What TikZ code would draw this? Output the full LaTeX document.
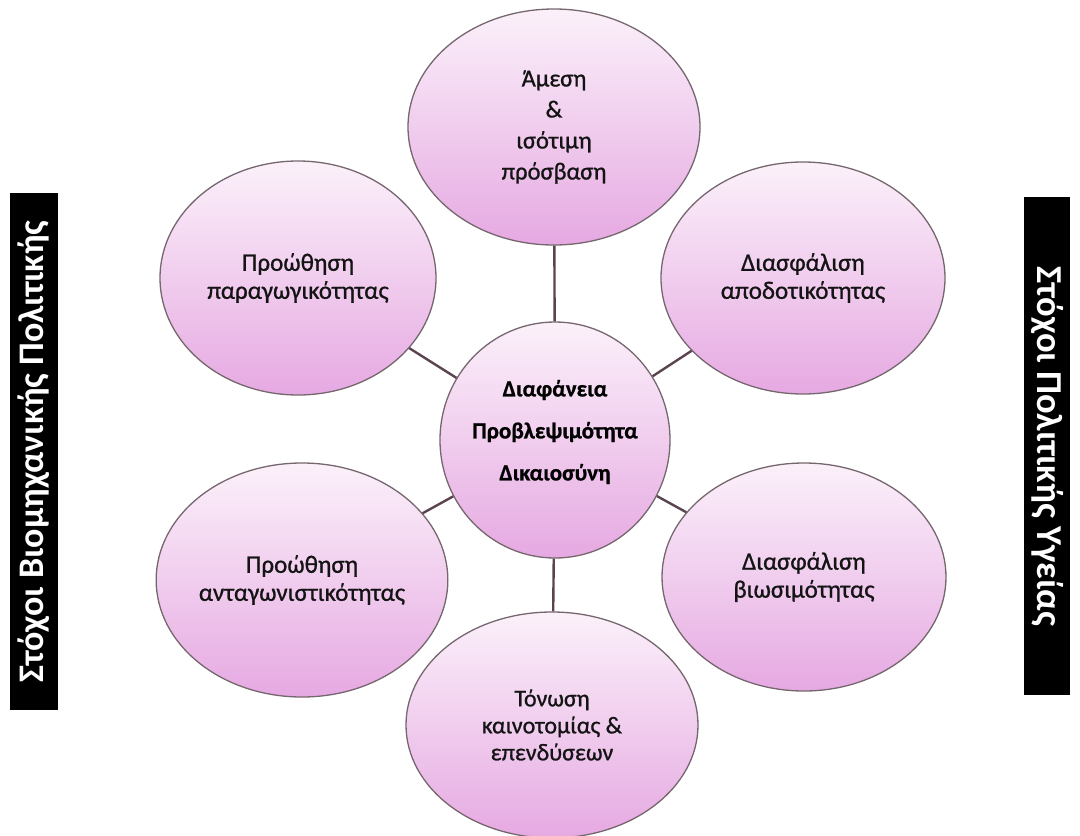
\documentclass[tikz,border=0pt]{standalone}
\usepackage{fontspec}
\setmainfont{Carlito}
\newfontfamily\medfont[FakeBold=0.9]{Carlito}
\usetikzlibrary{shapes.geometric}
\definecolor{pinktop}{HTML}{FBF1FA}
\definecolor{pinkbot}{HTML}{E6A9E2}
\definecolor{rim}{HTML}{76666E}
\definecolor{linkc}{HTML}{5B4350}
\begin{document}
\begin{tikzpicture}[x=1pt,y=-1pt,
  bubble/.style={ellipse, draw=rim, line width=1.3pt, top color=pinktop, bottom color=pinkbot,
    inner sep=0pt, align=center, text=black!92, font=\medfont\fontsize{25}{28}\selectfont},
  link/.style={draw=linkc, line width=2.4pt},
  sidebar/.style={fill=black, inner sep=0pt, text=white}]
\useasboundingbox[fill=white] (0,0) rectangle (1080,836);

\node[bubble, minimum width=292pt, minimum height=236pt, font=\medfont\fontsize{24.5}{31}\selectfont] (top) at (554,127) {Άμεση\\\&\\ισότιμη\\πρόσβαση};
\node[bubble, minimum width=276pt, minimum height=234pt] (ul) at (298,278) {Προώθηση\\παραγωγικότητας};
\node[bubble, minimum width=284pt, minimum height=232pt] (ur) at (803,278) {Διασφάλιση\\αποδοτικότητας};
\node[bubble, minimum width=276pt, minimum height=234pt] (ll) at (302,580) {Προώθηση\\ανταγωνιστικότητας};
\node[bubble, minimum width=284pt, minimum height=228pt] (lr) at (804,577) {Διασφάλιση\\βιωσιμότητας};
\node[bubble, minimum width=292pt, minimum height=226pt, font=\medfont\fontsize{24}{27}\selectfont] (bot) at (552,725) {Τόνωση\\καινοτομίας \&\\επενδύσεων};
\node[bubble, minimum width=230pt, minimum height=236pt,
  label={[name=ctext, align=center, yshift=8pt, text=black, font=\medfont\bfseries\fontsize{23}{42}\selectfont]center:{Διαφάνεια\\Προβλεψιμότητα\\Δικαιοσύνη}}] (c) at (555,440) {};

\draw[link] (c) -- (top);
\draw[link] (c) -- (ul);
\draw[link] (c) -- (ur);
\draw[link] (c) -- (ll);
\draw[link] (c) -- (lr);
\draw[link] (c) -- (bot);

\node[sidebar, rotate=90, minimum width=517pt, minimum height=48pt, font=\bfseries\fontsize{36}{38}\selectfont] (lbar) at (34,451.5) {Στόχοι Βιομηχανικής Πολιτικής};
\node[sidebar, rotate=-90, minimum width=498pt, minimum height=46pt, font=\bfseries\fontsize{36.5}{38}\selectfont] (rbar) at (1047,446) {Στόχοι Πολιτικής Υγείας};
\end{tikzpicture}
\end{document}
